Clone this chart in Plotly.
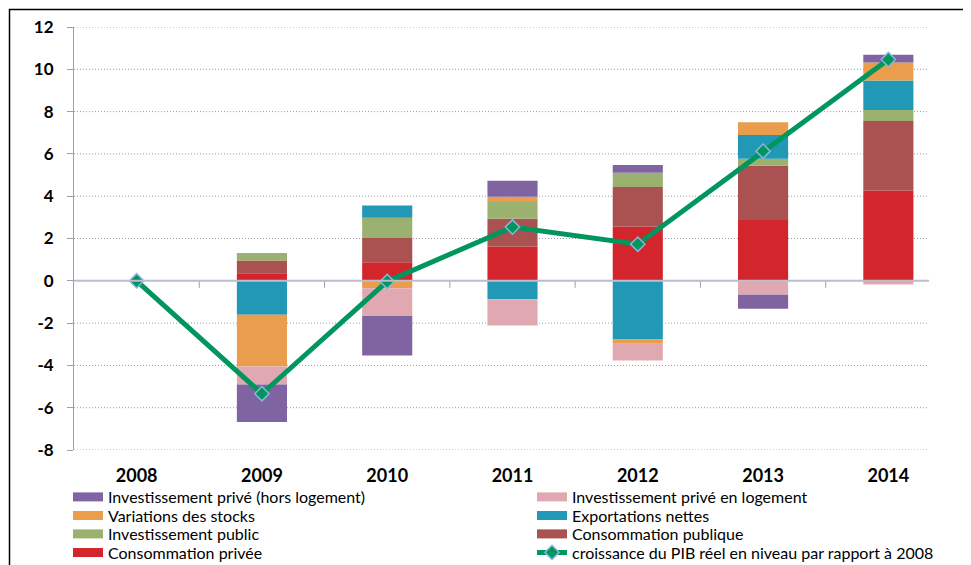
import plotly.graph_objects as go

years = ["2008", "2009", "2010", "2011", "2012", "2013", "2014"]
cons_privee = [0, 0.36, 0.88, 1.62, 2.57, 2.88, 4.27]
cons_publique = [0, 0.60, 1.14, 1.31, 1.87, 2.56, 3.28]
inv_public = [0, 0.35, 0.96, 0.80, 0.67, 0.33, 0.52]
export_nettes = [0, -1.61, 0.58, -0.87, -2.78, 1.12, 1.40]
var_stocks = [0, -2.44, -0.35, 0.24, -0.20, 0.61, 0.85]
inv_logement = [0, -0.85, -1.32, -1.24, -0.79, -0.66, -0.18]
inv_prive = [0, -1.78, -1.86, 0.76, 0.37, -0.66, 0.37]
pib = [0, -5.34, -0.03, 2.54, 1.73, 6.13, 10.46]
y_ticks = [-8, -6, -4, -2, 0, 2, 4, 6, 8, 10, 12]
y_tick_labels = ["-8", "-6", "-4", "-2", "0", "2", "4", "6", "8", "10", "12"]

# name, values, colour, legend slot (column, row)
series = [
    ("Consommation privée", cons_privee, "#D2262C", (0, 3)),
    ("Consommation publique", cons_publique, "#AA5151", (1, 2)),
    ("Investissement public", inv_public, "#9BB16F", (0, 2)),
    ("Exportations nettes", export_nettes, "#2199B6", (1, 1)),
    ("Variations des stocks", var_stocks, "#E99D4D", (0, 1)),
    ("Investissement privé en logement", inv_logement, "#E0A9B1", (1, 0)),
    ("Investissement privé (hors logement)", inv_prive, "#8064A2", (0, 0)),
]

OFF = 8  # page body margin
W, H = 971 - OFF, 565 - OFF
FONT = "Lato, Carlito, Liberation Sans, sans-serif"
LEG_FONT = dict(family=FONT, size=16, color="black")
col_x = [68 - OFF, 532 - OFF]
row_y = [497 - OFF, 515.5 - OFF, 534 - OFF, 552.5 - OFF]

# plot area in page pixels
PL, PR, PT, PB = 74, 951, 27, 450
pw, ph = PR - PL, PB - PT

fig = go.Figure()
legends = {}
for k, (name, vals, col, (c, r)) in enumerate(series):
    lid = "legend" if k == 0 else f"legend{k + 1}"
    fig.add_trace(go.Bar(x=years, y=vals, name=name, marker=dict(color=col, line=dict(width=0)),
                         width=0.4, showlegend=False))
    fig.add_trace(go.Scatter(x=[None], y=[None], mode="lines", name=name,
                             line=dict(color=col, width=9), legend=lid))
    legends[lid] = dict(xref="container", yref="container", x=col_x[c] / W, y=1 - row_y[r] / H,
                        xanchor="left", yanchor="middle", font=LEG_FONT, bgcolor="rgba(0,0,0,0)",
                        borderwidth=0)

lid = "legend8"
fig.add_trace(go.Scatter(x=years, y=pib, mode="lines+markers",
                         name="croissance du PIB réel en niveau par rapport à 2008",
                         line=dict(color="#00965E", width=5),
                         marker=dict(symbol="diamond", size=11, color="#00965E",
                                     line=dict(color="#8CB4DC", width=1.5)),
                         legend=lid))
legends[lid] = dict(xref="container", yref="container", x=col_x[1] / W, y=1 - row_y[3] / H,
                    xanchor="left", yanchor="middle", font=LEG_FONT, bgcolor="rgba(0,0,0,0)",
                    borderwidth=0)

# category boundary ticks on the zero axis
shapes = []
for i in range(len(years) - 1):
    shapes.append(dict(type="line", xref="x", yref="y", x0=i + 0.5, x1=i + 0.5, y0=0, y1=-0.33,
                       line=dict(color="#9D9DAF", width=1)))
# dotted gridlines ending before right edge
gl_end = (929 - PL) / pw
for t in y_ticks:
    if t == 0:
        continue
    shapes.append(dict(type="line", xref="paper", yref="y", x0=0, x1=gl_end, y0=t, y1=t,
                       line=dict(color="#9A9AAA", width=1, dash="1px,2px"), layer="below"))
shapes.append(dict(type="line", xref="paper", yref="y", x0=0, x1=gl_end, y0=0, y1=0,
                   line=dict(color="#BDBDCB", width=2)))
# outer chart border
shapes.append(dict(type="rect", xref="paper", yref="paper",
                   x0=(9.5 - PL) / pw, x1=1.2, y0=-0.5, y1=1 + (PT - 9.5) / ph,
                   line=dict(color="black", width=1.5), fillcolor="rgba(0,0,0,0)"))

fig.update_layout(
    width=W, height=H,
    margin=dict(l=PL - OFF, r=971 - PR, t=PT - OFF, b=565 - PB, autoexpand=False),
    barmode="relative",
    plot_bgcolor="white", paper_bgcolor="white",
    font=dict(family=FONT, color="black"),
    shapes=shapes,
    showlegend=True,
    xaxis=dict(showgrid=False, showline=False, ticks="", automargin=False,
               tickfont=dict(family=FONT, size=18, weight="bold"),
               ticklabelstandoff=13, range=[-0.5, 6.5]),
    yaxis=dict(range=[-8, 12], tickvals=y_ticks, ticktext=y_tick_labels, showgrid=False, zeroline=False,
               automargin=False, showline=True, linecolor="#9D9DAF", linewidth=1,
               ticks="outside", ticklen=6, tickcolor="#9D9DAF",
               tickfont=dict(family=FONT, size=17, weight="bold"), ticklabelstandoff=10),
    **legends,
)

fig.write_html("out.html")
